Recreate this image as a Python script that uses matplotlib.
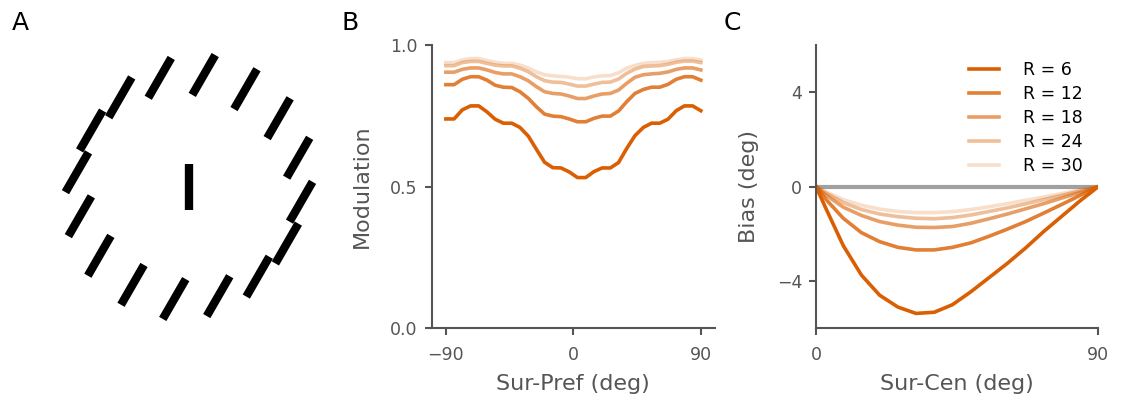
import numpy as np
import matplotlib
matplotlib.use('Agg')
import matplotlib.pyplot as plt

# ---- panel A: stimulus (centre bar + ring of surround bars) ----
n_surround = 16
ring_radius = 113        # px
ring_offset = 15         # deg, angular position of first bar
surround_ori = 60        # deg from horizontal
center_ori = 90
bar_len = 46
bar_lw = 6

# ---- panel B: modulation vs surround-preferred difference ----
sur_pref = [-90.0, -84.2, -78.4, -72.6, -66.8, -61.0, -55.2, -49.4, -43.5, -37.7,
            -31.9, -26.1, -20.3, -14.5, -8.7, -2.9, 2.9, 8.7, 14.5, 20.3, 26.1,
            31.9, 37.7, 43.5, 49.4, 55.2, 61.0, 66.8, 72.6, 78.4, 84.2, 90.0]
mod_r6 = [0.739, 0.739, 0.771, 0.785, 0.785, 0.764, 0.738, 0.724, 0.724, 0.709,
          0.679, 0.632, 0.586, 0.567, 0.566, 0.552, 0.532, 0.532, 0.553, 0.566,
          0.566, 0.585, 0.635, 0.680, 0.709, 0.724, 0.724, 0.738, 0.768, 0.785,
          0.785, 0.768]
mod_r12 = [0.860, 0.860, 0.879, 0.888, 0.888, 0.876, 0.858, 0.851, 0.850, 0.835,
           0.812, 0.782, 0.756, 0.749, 0.747, 0.739, 0.729, 0.729, 0.741, 0.749,
           0.749, 0.767, 0.800, 0.829, 0.843, 0.851, 0.851, 0.861, 0.879, 0.888,
           0.888, 0.876]
mod_r18 = [0.904, 0.904, 0.914, 0.919, 0.919, 0.912, 0.903, 0.898, 0.898, 0.888,
           0.874, 0.853, 0.835, 0.829, 0.827, 0.820, 0.811, 0.811, 0.820, 0.827,
           0.829, 0.841, 0.865, 0.886, 0.895, 0.898, 0.900, 0.905, 0.914, 0.919,
           0.919, 0.912]
mod_r24 = [0.927, 0.927, 0.938, 0.942, 0.942, 0.935, 0.929, 0.926, 0.926, 0.918,
           0.906, 0.888, 0.874, 0.869, 0.868, 0.862, 0.855, 0.855, 0.862, 0.868,
           0.869, 0.880, 0.900, 0.915, 0.924, 0.926, 0.927, 0.932, 0.939, 0.943,
           0.943, 0.938]
mod_r30 = [0.938, 0.938, 0.947, 0.952, 0.952, 0.945, 0.939, 0.935, 0.935, 0.929,
           0.919, 0.905, 0.895, 0.891, 0.889, 0.886, 0.881, 0.881, 0.887, 0.891,
           0.892, 0.902, 0.918, 0.928, 0.935, 0.938, 0.939, 0.942, 0.948, 0.952,
           0.952, 0.947]

# ---- panel C: bias vs surround-centre difference ----
sur_cen = [0.0, 2.9, 8.7, 14.5, 20.3, 26.1, 31.9, 37.7, 43.5, 49.4, 55.2, 61.0,
           66.8, 72.6, 78.4, 84.2, 90.0]
bias_r6 = [0, -0.85, -2.5, -3.75, -4.6, -5.1, -5.37, -5.32, -5.0, -4.45, -3.85,
           -3.25, -2.6, -1.9, -1.25, -0.6, 0]
bias_r12 = [0, -0.5, -1.34, -1.95, -2.33, -2.57, -2.68, -2.68, -2.57, -2.38, -2.1,
            -1.8, -1.48, -1.12, -0.75, -0.37, 0]
bias_r18 = [0, -0.33, -0.87, -1.22, -1.48, -1.63, -1.72, -1.73, -1.69, -1.55, -1.36,
            -1.16, -0.94, -0.72, -0.48, -0.25, 0]
bias_r24 = [0, -0.25, -0.68, -0.97, -1.16, -1.27, -1.34, -1.36, -1.31, -1.2, -1.05,
            -0.9, -0.73, -0.55, -0.37, -0.18, 0]
bias_r30 = [0, -0.2, -0.55, -0.79, -0.95, -1.05, -1.1, -1.1, -1.06, -0.97, -0.85,
            -0.72, -0.58, -0.44, -0.29, -0.14, 0]

radii = [6, 12, 18, 24, 30]
alphas = [1.0, 0.8, 0.6, 0.4, 0.2]
line_color = '#d95f02'
grey = '#555555'

plt.rcParams['font.family'] = 'DejaVu Sans'
fig = plt.figure(figsize=(11.22, 4.01), dpi=100)


def style_axes(ax):
    for s in ['top', 'right']:
        ax.spines[s].set_visible(False)
    for s in ['left', 'bottom']:
        ax.spines[s].set_color(grey)
        ax.spines[s].set_linewidth(1.5)
    ax.tick_params(colors=grey, labelsize=12.5, length=5, width=1.5, pad=5)
    ax.tick_params(axis='x', pad=8)
    ax.xaxis.label.set_color(grey)
    ax.yaxis.label.set_color(grey)


# A
axA = fig.add_axes([39 / 1122, 64 / 401, 300 / 1122, 300 / 401])
axA.set_xlim(-150, 150)
axA.set_ylim(-150, 150)
axA.axis('off')
for k in range(n_surround):
    pos = np.deg2rad(ring_offset + 360.0 * k / n_surround)
    cx, cy = ring_radius * np.cos(pos), ring_radius * np.sin(pos)
    o = np.deg2rad(surround_ori)
    dx, dy = bar_len / 2 * np.cos(o), bar_len / 2 * np.sin(o)
    axA.plot([cx - dx, cx + dx], [cy - dy, cy + dy], color='k', lw=bar_lw,
             solid_capstyle='butt')
o = np.deg2rad(center_ori)
axA.plot([-bar_len / 2 * np.cos(o), bar_len / 2 * np.cos(o)],
         [-bar_len / 2 * np.sin(o), bar_len / 2 * np.sin(o)],
         color='k', lw=bar_lw, solid_capstyle='butt')

# B
axB = fig.add_axes([431.7 / 1122, 72.7 / 401, 283.3 / 1122, 283.3 / 401])
for y, a in zip([mod_r6, mod_r12, mod_r18, mod_r24, mod_r30], alphas):
    axB.plot(sur_pref, y, color=line_color, alpha=a, lw=2.6)
axB.set_xlim(-100, 100)
axB.set_ylim(0, 1)
axB.set_xticks([-90, 0, 90])
axB.set_yticks([0, 0.5, 1.0])
axB.set_yticklabels(['0.0', '0.5', '1.0'])
axB.set_xlabel('Sur-Pref (deg)', fontsize=16, labelpad=7)
axB.set_ylabel('Modulation', fontsize=16, labelpad=13)
style_axes(axB)

# C
axC = fig.add_axes([816 / 1122, 72.7 / 401, 282.3 / 1122, 283.3 / 401])
axC.plot([0, 90], [0, 0], color='#a0a0a0', lw=3, zorder=1)
for y, a, r in zip([bias_r6, bias_r12, bias_r18, bias_r24, bias_r30], alphas, radii):
    axC.plot(sur_cen, y, color=line_color, alpha=a, lw=2.6, label='R = %d' % r,
             zorder=2)
axC.set_xlim(0, 90)
axC.set_ylim(-6, 6)
axC.set_xticks([0, 90])
axC.set_yticks([-4, 0, 4])
axC.set_xlabel('Sur-Cen (deg)', fontsize=16, labelpad=7)
axC.set_ylabel('Bias (deg)', fontsize=16, labelpad=13)
style_axes(axC)
axC.legend(loc='upper right', bbox_to_anchor=(1.0, 1.0), frameon=False,
           fontsize=12.5, handlelength=1.7, handletextpad=1.4, labelspacing=0.35)

for letter, x in [('A', 12), ('B', 342), ('C', 724)]:
    fig.text(x / 1122, 1 - 30 / 401, letter, fontsize=18, va='baseline', ha='left')

fig.savefig('out.png', dpi=100)
